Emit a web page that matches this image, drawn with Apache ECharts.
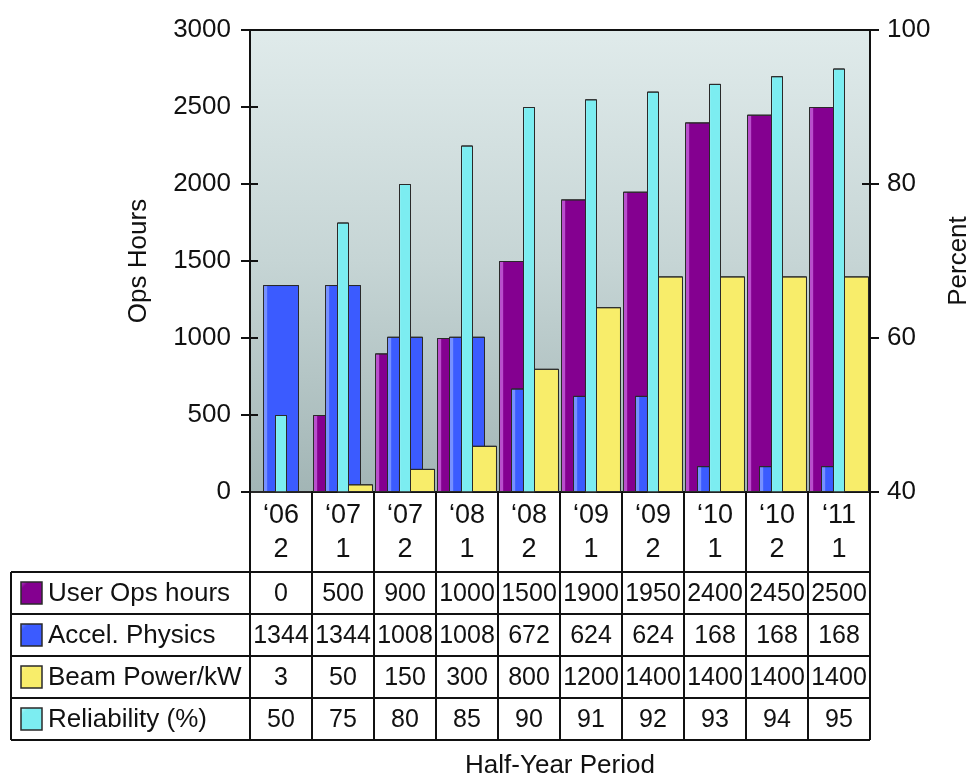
<!DOCTYPE html>
<html><head><meta charset="utf-8">
<script src="https://cdn.jsdelivr.net/npm/echarts/dist/echarts.min.js"></script>
<style>html,body{margin:0;padding:0;background:#fff}#c{width:969px;height:777px}</style>
</head><body><div id="c"></div>
<script>
// ---- data ----
const periodYears = ["\u201806","\u201807","\u201807","\u201808","\u201808","\u201809","\u201809","\u201810","\u201810","\u201811"];
const periodHalves = ["2","1","2","1","2","1","2","1","2","1"];
const categories = periodYears.map((y, i) => y + " " + periodHalves[i]);
const userOps = [0, 500, 900, 1000, 1500, 1900, 1950, 2400, 2450, 2500];
const accelPhysics = [1344, 1344, 1008, 1008, 672, 624, 624, 168, 168, 168];
const beamPower = [3, 50, 150, 300, 800, 1200, 1400, 1400, 1400, 1400];
const reliability = [50, 75, 80, 85, 90, 91, 92, 93, 94, 95];
const seriesNames = ["User Ops hours", "Accel. Physics", "Beam Power/kW", "Reliability (%)"];
const leftAxisTitle = "Ops Hours";
const rightAxisTitle = "Percent";
const xAxisTitle = "Half-Year Period";

// ---- styling ----
const FONT = "Liberation Sans, Arial, Helvetica, sans-serif";
const palette = [
  {base: "#840090", light: "#b94fcc"},
  {base: "#3b5bff", light: "#7690ff"},
  {base: "#f8ed6a", light: "#fffbb8"},
  {base: "#7cedf1", light: "#c4fbfd"}
];
function bevel(p) {
  return new echarts.graphic.LinearGradient(0, 0, 1, 0, [
    {offset: 0, color: p.light}, {offset: 0.1, color: p.light},
    {offset: 0.13, color: p.base}, {offset: 1, color: p.base}
  ]);
}
const chart = echarts.init(document.getElementById('c'), null, {renderer: 'canvas'});
const GL = 250, GT = 30, GW = 620, GH = 462;
const barBorder = {borderColor: "#2a2a2a", borderWidth: 1};
const plain = v => String(v);

const option = {
  animation: false,
  backgroundColor: "#fff",
  grid: {
    left: GL, top: GT, width: GW, height: GH, show: true,
    outerBoundsMode: 'none', containLabel: false,
    borderColor: "#111", borderWidth: 2,
    backgroundColor: new echarts.graphic.LinearGradient(0, 0, 0, 1, [
      {offset: 0, color: "#e0ebeb"}, {offset: 0.5, color: "#c6d5d5"}, {offset: 1, color: "#a2b5b5"}
    ])
  },
  xAxis: [
    {type: 'category', data: categories, gridIndex: 0,
     axisLine: {show: true, lineStyle: {color: "#111", width: 2}}, axisTick: {show: false},
     axisLabel: {show: false}, splitLine: {show: false},
     name: xAxisTitle, nameLocation: 'middle', nameGap: 261,
     nameTextStyle: {fontFamily: FONT, fontSize: 26, color: "#111"}},
    {type: 'category', data: categories, gridIndex: 0, show: false}
  ],
  yAxis: [
    {type: 'value', min: 0, max: 3000, interval: 500, position: 'left',
     axisLine: {show: true, lineStyle: {color: "#111", width: 2}},
     axisTick: {show: true, length: 9, lineStyle: {color: "#111", width: 2}},
     axisLabel: {fontFamily: FONT, fontSize: 26, color: "#111", margin: 19, formatter: plain},
     splitLine: {show: false},
     name: leftAxisTitle, nameLocation: 'middle', nameGap: 98, nameRotate: 90,
     nameTextStyle: {fontFamily: FONT, fontSize: 26, color: "#111"}},
    {type: 'value', min: 40, max: 100, interval: 20, position: 'right',
     axisLine: {show: true, lineStyle: {color: "#111", width: 2}},
     axisTick: {show: true, length: 9, lineStyle: {color: "#111", width: 2}},
     axisLabel: {fontFamily: FONT, fontSize: 26, color: "#111", margin: 17, formatter: plain},
     splitLine: {show: false},
     name: rightAxisTitle, nameLocation: 'middle', nameGap: 76, nameRotate: 90,
     nameTextStyle: {fontFamily: FONT, fontSize: 26, color: "#111"}},
    {type: 'value', min: 0, max: 3000, interval: 500, position: 'left',
     axisLine: {show: false}, axisLabel: {show: false}, splitLine: {show: false},
     axisTick: {show: true, inside: true, length: 8, lineStyle: {color: "#111", width: 2}}},
    {type: 'value', min: 40, max: 100, interval: 20, position: 'right',
     axisLine: {show: false}, axisLabel: {show: false}, splitLine: {show: false},
     axisTick: {show: true, inside: true, length: 8, lineStyle: {color: "#111", width: 2}}}
  ],
  series: [
    {name: seriesNames[0], type: 'bar', xAxisIndex: 0, yAxisIndex: 0, data: userOps,
     barWidth: 36, barGap: '-66.67%', itemStyle: Object.assign({color: bevel(palette[0])}, barBorder)},
    {name: seriesNames[1], type: 'bar', xAxisIndex: 0, yAxisIndex: 0, data: accelPhysics,
     barWidth: 36, barGap: '-66.67%', itemStyle: Object.assign({color: bevel(palette[1])}, barBorder)},
    {name: seriesNames[2], type: 'bar', xAxisIndex: 0, yAxisIndex: 0, data: beamPower,
     barWidth: 36, barGap: '-66.67%', itemStyle: Object.assign({color: bevel(palette[2])}, barBorder)},
    {name: seriesNames[3], type: 'bar', xAxisIndex: 1, yAxisIndex: 1, data: reliability,
     barWidth: 12, itemStyle: Object.assign({color: bevel(palette[3])}, barBorder)}
  ]
};
chart.setOption(option);

// ---- data table under the plot ----
const gBottom = GT + GH;                 // 492
const headerBottom = 572;
const rowH = 42;
const tableLeft = 11;
const rows = [userOps, accelPhysics, beamPower, reliability];
const els = [];
const lineStyle = {stroke: "#111", lineWidth: 2};
function line(x1, y1, x2, y2) {
  els.push({type: 'line', shape: {x1, y1, x2, y2}, style: lineStyle, silent: true, z: 100});
}
function text(t, x, y, size, align) {
  els.push({type: 'text', x: x, y: y, silent: true, z: 101,
    style: {text: t, fontFamily: FONT, fontSize: size, fill: "#111",
      align: align || 'center', verticalAlign: 'middle',
      textAlign: align || 'center', textVerticalAlign: 'middle'}});
}
const centers = categories.map((c, i) => chart.convertToPixel({xAxisIndex: 0}, i));
const step = centers.length > 1 ? centers[1] - centers[0] : GW;
const bounds = [centers[0] - step / 2].concat(centers.map(c => c + step / 2));
const tableBottom = headerBottom + rowH * rows.length;
bounds.forEach(x => line(x, gBottom, x, tableBottom));
line(tableLeft, headerBottom, bounds[bounds.length - 1], headerBottom);
for (let r = 1; r <= rows.length; r++) line(tableLeft, headerBottom + r * rowH, bounds[bounds.length - 1], headerBottom + r * rowH);
line(tableLeft, headerBottom, tableLeft, tableBottom);
centers.forEach((cx, i) => {
  text(periodYears[i], cx, 516, 27);
  text(periodHalves[i], cx, 550, 27);
});
rows.forEach((vals, r) => {
  const cy = headerBottom + r * rowH + rowH / 2;
  els.push({type: 'rect', shape: {x: 21, y: cy - 11, width: 21, height: 22}, silent: true, z: 101,
    style: {fill: new echarts.graphic.LinearGradient(0, 0, 1, 1, [
      {offset: 0, color: palette[r].light}, {offset: 0.2, color: palette[r].base}, {offset: 1, color: palette[r].base}]),
      stroke: "#2a2a2a", lineWidth: 1.5}});
  text(seriesNames[r], 48, cy + 1, 26, 'left');
  vals.forEach((v, i) => text(String(v), centers[i], cy + 1, 25));
});
chart.setOption({graphic: {elements: els}});
</script>
</body></html>
